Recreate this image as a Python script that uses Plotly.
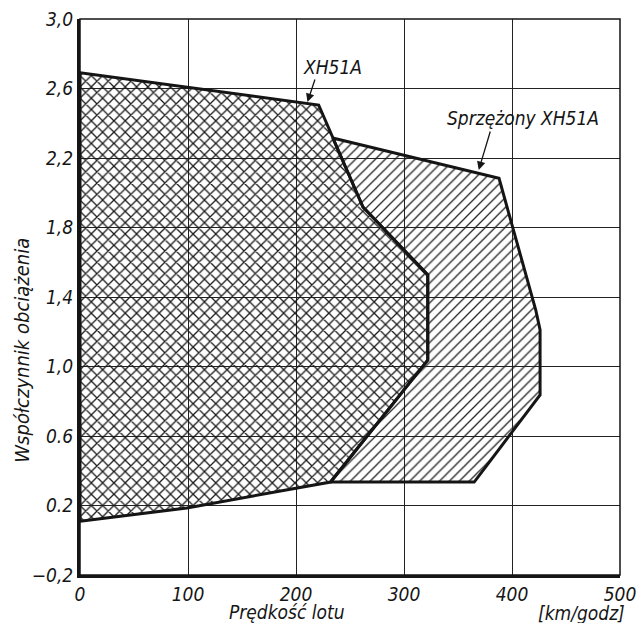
import plotly.graph_objects as go

# ---- data ----
xh51a_speed = [0, 0, 221, 262, 322, 322, 232, 99, 0]
xh51a_load = [0.11, 2.69, 2.505, 1.918, 1.527, 1.037, 0.335, 0.186, 0.11]

sprz_speed = [234, 388, 422, 426, 426, 365, 232, 322, 322, 262, 234]
sprz_load = [2.315, 2.083, 1.325, 1.21, 0.836, 0.335, 0.335, 1.037, 1.527, 1.918, 2.315]

x_ticks = [0, 100, 200, 300, 400, 500]
x_tick_labels = ["0", "100", "200", "300", "400", "500"]
y_ticks = [3.0, 2.6, 2.2, 1.8, 1.4, 1.0, 0.6, 0.2, -0.2]
y_tick_labels = ["3,0", "2,6", "2,2", "1,8", "1,4", "1,0", "0.6", "0.2", "\u22120,2"]

label_xh51a = "XH51A"
label_sprz = "Sprzężony XH51A"
x_title = "Prędkość lotu"
x_unit = "[km/godz]"
y_title = "Współczynnik obciążenia"

FONT = "DejaVu Sans Condensed, Liberation Sans Narrow, DejaVu Sans, sans-serif"
INK = "#151515"

fig = go.Figure()

fig.add_trace(go.Scatter(
    x=sprz_speed, y=sprz_load, mode="lines", fill="toself",
    line=dict(color=INK, width=3),
    fillcolor="rgba(0,0,0,0)",
    fillpattern=dict(shape="/", fgcolor="#222", bgcolor="rgba(0,0,0,0)",
                     size=7, solidity=0.18, fillmode="replace"),
    hoverinfo="skip", showlegend=False,
))
fig.add_trace(go.Scatter(
    x=xh51a_speed, y=xh51a_load, mode="lines", fill="toself",
    line=dict(color=INK, width=3),
    fillcolor="rgba(0,0,0,0)",
    fillpattern=dict(shape="x", fgcolor="#1a1a1a", bgcolor="rgba(0,0,0,0)",
                     size=8, solidity=0.3, fillmode="replace"),
    hoverinfo="skip", showlegend=False,
))

tickfont = dict(family=FONT, size=19, color=INK, style="italic")

fig.update_xaxes(
    range=[0, 500], tickvals=x_ticks, ticktext=x_tick_labels,
    showgrid=True, gridcolor="#222", gridwidth=1.4,
    showline=True, linecolor=INK, linewidth=3, mirror=False,
    zeroline=False, ticks="", tickfont=tickfont, automargin=False,
    ticklabeloverflow="allow", ticklabelstandoff=0,
)
fig.update_yaxes(
    range=[-0.2, 3.0], tickvals=y_ticks, ticktext=y_tick_labels,
    showgrid=True, gridcolor="#222", gridwidth=1.4,
    showline=True, linecolor=INK, linewidth=3, mirror=False,
    zeroline=False, ticks="", tickfont=tickfont, automargin=False,
    ticklabeloverflow="allow",
)

# thin frame on top/right
fig.add_shape(type="rect", xref="paper", yref="paper", x0=0, y0=0, x1=1, y1=1,
              line=dict(color=INK, width=1.5), layer="above")

labfont = dict(family=FONT, size=19, color=INK, style="italic")

fig.add_annotation(x=234, y=2.724, xref="x", yref="y", text=label_xh51a,
                   showarrow=False, font=labfont, xanchor="center", yanchor="middle")
fig.add_annotation(x=210.6, y=2.522, ax=218, ay=2.66, axref="x", ayref="y",
                   xref="x", yref="y", text="", showarrow=True,
                   arrowhead=2, arrowsize=1.3, arrowwidth=1.3, arrowcolor=INK)

fig.add_annotation(x=410, y=2.43, xref="x", yref="y", text=label_sprz,
                   showarrow=False, font=labfont, xanchor="center", yanchor="middle")
fig.add_annotation(x=369.2, y=2.131, ax=380.3, ay=2.361, axref="x", ayref="y",
                   xref="x", yref="y", text="", showarrow=True,
                   arrowhead=2, arrowsize=1.3, arrowwidth=1.3, arrowcolor=INK)

fig.add_annotation(x=0.384, y=-0.066, xref="paper", yref="paper", text=x_title,
                   showarrow=False, xanchor="center", yanchor="middle",
                   font=dict(family=FONT, size=19, color=INK, style="italic"))
fig.add_annotation(x=0.928, y=-0.069, xref="paper", yref="paper", text=x_unit,
                   showarrow=False, xanchor="center", yanchor="middle",
                   font=dict(family=FONT, size=19, color=INK, style="italic"))
fig.add_annotation(x=-0.1076, y=0.405, xref="paper", yref="paper", text=y_title,
                   textangle=-90, showarrow=False, xanchor="center", yanchor="middle",
                   font=dict(family=FONT, size=20, color=INK, style="italic"))

fig.update_layout(
    width=637, height=623,
    margin=dict(l=80, r=17, t=19, b=48, autoexpand=False),
    paper_bgcolor="white", plot_bgcolor="white",
    showlegend=False,
)

# remove the default 8px page margin so the figure fills the window exactly
fig.write_html("out.html",
               config={"displayModeBar": False},
               post_script="document.body.style.margin='0';document.body.style.overflow='hidden';")
